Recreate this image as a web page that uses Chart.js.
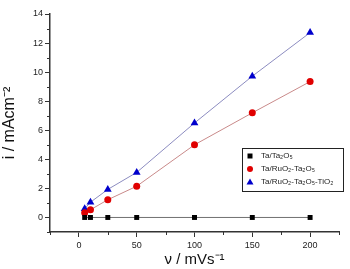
<!DOCTYPE html>
<html>
<head>
<meta charset="utf-8">
<script src="https://cdn.jsdelivr.net/npm/chart.js@4"></script>
<style>
  html, body { margin: 0; padding: 0; background: #fff; }
  #wrap { width: 350px; height: 269px; }
</style>
</head>
<body>
<div id="wrap"><canvas id="scanRate"></canvas></div>
<script>
const scanRates = [5, 10, 25, 50, 100, 150, 200];
const taTa2O5 = [0, 0, 0, 0, 0, 0, 0];
const taRuO2Ta2O5 = [0.32, 0.53, 1.22, 2.15, 5.0, 7.2, 9.35];
const taRuO2Ta2O5TiO2 = [0.6, 1.05, 1.93, 3.1, 6.5, 9.72, 12.72];
const seriesLabels = ['Ta/Ta₂O₅', 'Ta/RuO₂-Ta₂O₅', 'Ta/RuO₂-Ta₂O₅-TiO₂'];
const xTicks = [0, 50, 100, 150, 200];
const xMinor = [-25, 25, 75, 125, 175, 225];
const yTicks = [0, 2, 4, 6, 8, 10, 12, 14];
const yMinor = [-1, 1, 3, 5, 7, 9, 11, 13];

const toPoints = vals => vals.map((v, i) => ({ x: scanRates[i], y: v }));

const minorTicks = {
    id: 'minorTicks',
    afterDraw(chart) {
        const ctx = chart.ctx;
        const xs = chart.scales.x, ys = chart.scales.y;
        ctx.save();
        ctx.strokeStyle = '#333';
        ctx.lineWidth = 1;
        ctx.beginPath();
        xMinor.forEach(v => {
            const px = Math.round(xs.getPixelForValue(v)) + 0.5;
            ctx.moveTo(px, xs.top);
            ctx.lineTo(px, xs.top + 3);
        });
        yMinor.forEach(v => {
            const py = Math.round(ys.getPixelForValue(v)) + 0.5;
            ctx.moveTo(ys.right, py);
            ctx.lineTo(ys.right - 3, py);
        });
        ctx.stroke();
        ctx.restore();
    }
};

const boxLegend = {
    id: 'boxLegend',
    afterDraw(chart) {
        const ctx = chart.ctx;
        const x0 = 242, y0 = 148, w = 101, h = 43;
        ctx.save();
        ctx.fillStyle = '#fff';
        ctx.fillRect(x0, y0, w, h);
        ctx.strokeStyle = '#222';
        ctx.lineWidth = 1;
        ctx.strokeRect(x0 + 0.5, y0 + 0.5, w, h);
        ctx.font = '8px Arial, "Liberation Sans", sans-serif';
        ctx.textBaseline = 'middle';
        chart.data.datasets.forEach((ds, i) => {
            const y = y0 + 8 + i * 13;
            ctx.fillStyle = ds.backgroundColor;
            const mx = x0 + 8;
            ctx.beginPath();
            if (ds.pointStyle === 'rect') {
                ctx.rect(mx - 2.5, y - 2.5, 5, 5);
            } else if (ds.pointStyle === 'circle') {
                ctx.arc(mx, y, 3, 0, Math.PI * 2);
            } else {
                ctx.moveTo(mx, y - 3.5);
                ctx.lineTo(mx + 3.5, y + 2.5);
                ctx.lineTo(mx - 3.5, y + 2.5);
                ctx.closePath();
            }
            ctx.fill();
            ctx.fillStyle = '#222';
            ctx.fillText(ds.label, x0 + 19, y);
        });
        ctx.restore();
    }
};

const dataScanRate = {
    datasets: [{
        label: seriesLabels[0],
        data: toPoints(taTa2O5),
        borderColor: '#707070',
        backgroundColor: '#000000',
        pointStyle: 'rect',
        pointRadius: 3.5,
        borderWidth: 1,
    }, {
        label: seriesLabels[1],
        data: toPoints(taRuO2Ta2O5),
        borderColor: '#c98a8a',
        backgroundColor: '#e00000',
        pointStyle: 'circle',
        pointRadius: 3.5,
        borderWidth: 1,
    }, {
        label: seriesLabels[2],
        data: toPoints(taRuO2Ta2O5TiO2),
        borderColor: '#8c8cc0',
        backgroundColor: '#0000cc',
        pointStyle: 'triangle',
        pointRadius: 4.5,
        borderWidth: 1,
    }]
};

const configScanRate = {
    type: 'line',
    data: dataScanRate,
    plugins: [minorTicks, boxLegend],
    options: {
        maintainAspectRatio: false,
        responsive: true,
        animation: false,
        layout: {
            padding: { top: 14, right: 11, left: 0, bottom: 0 }
        },
        elements: {
            point: { borderWidth: 0, pointBorderColor: 'transparent' }
        },
        plugins: {
            legend: { display: false },
            tooltip: { enabled: false }
        },
        scales: {
            x: {
                type: 'linear',
                min: -25,
                max: 225,
                afterBuildTicks: s => { s.ticks = xTicks.map(v => ({ value: v })); },
                afterFit: s => { s.height = 37; },
                ticks: {
                    color: '#222',
                    padding: 3,
                    maxRotation: 0,
                    font: { size: 9, family: 'Arial, "Liberation Sans", sans-serif' }
                },
                grid: {
                    drawOnChartArea: false,
                    tickLength: 5,
                    tickColor: '#333'
                },
                border: { color: '#333', width: 1.5 },
                title: {
                    display: true,
                    text: 'ν / mVs⁻¹',
                    color: '#111',
                    padding: { top: -2, bottom: 0 },
                    font: { size: 15, family: 'Arial, "Liberation Sans", sans-serif' }
                }
            },
            y: {
                type: 'linear',
                min: -1,
                max: 14,
                afterBuildTicks: s => { s.ticks = yTicks.map(v => ({ value: v })); },
                afterFit: s => { s.width = 50; },
                ticks: {
                    color: '#222',
                    padding: 2,
                    font: { size: 9, family: 'Arial, "Liberation Sans", sans-serif' }
                },
                grid: {
                    drawOnChartArea: false,
                    tickLength: 5,
                    tickColor: '#333'
                },
                border: { color: '#333', width: 1.5 },
                title: {
                    display: true,
                    text: 'i / mAcm⁻²',
                    color: '#111',
                    padding: { top: 0, bottom: 3 },
                    font: { size: 16, family: 'Arial, "Liberation Sans", sans-serif' }
                }
            }
        }
    }
};

const lineChartScanRate = new Chart(
    document.getElementById('scanRate'),
    configScanRate
);
</script>
</body>
</html>
